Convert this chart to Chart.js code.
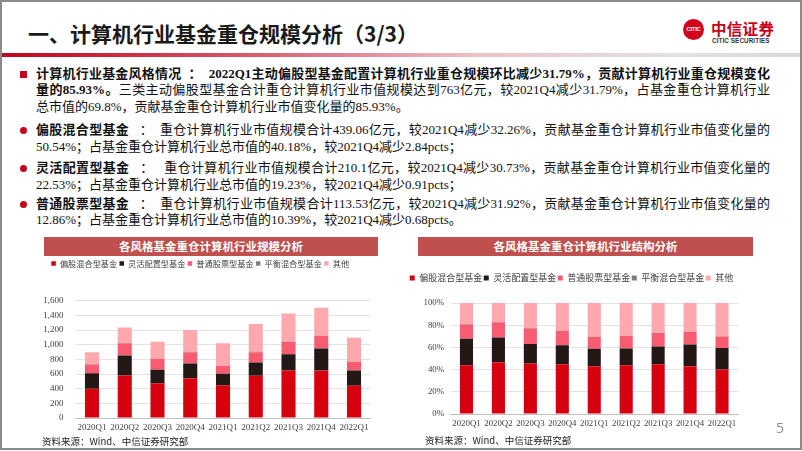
<!DOCTYPE html>
<html>
<head>
<meta charset="utf-8">
<script src="https://cdn.jsdelivr.net/npm/chart.js@4.4.1/dist/chart.umd.min.js"></script>
<style>
  body { margin: 0; background: #fff; }
  #slide { position: relative; width: 802px; height: 451px; overflow: hidden; background: #fff;
           font-family: "Liberation Serif", "Noto Sans CJK SC", serif; color: #111; }
  #frame { position: absolute; left: 0; top: 0; width: 802px; height: 450px; box-sizing: border-box;
           border: 2px solid #8a8a8a; pointer-events: none; z-index: 5; }
  .abs { position: absolute; }

  /* ── Cabecera ── */
  #title { left: 28px; top: 21px; font: bold 21px/24px "Noto Sans CJK SC", sans-serif; color: #1a1a1a; }
  #rule { left: 0; top: 53px; width: 800px; height: 4px;
          background: linear-gradient(to right, #c4001c 0%, #d9556a 30%, #edc2c6 60%, #e2e2e2 85%, #d8d8d8 100%); }
  #logo-ring { left: 683px; top: 19px; width: 21px; height: 21px; border-radius: 50%; background: #d0021b;
               color: #fff; font: bold 6px/21px "Liberation Sans", sans-serif; text-align: center; letter-spacing: -0.3px; }
  #logo-cn { left: 711px; top: 19px; font: bold 15.5px/18px "Noto Sans CJK SC", serif; color: #c8001a; letter-spacing: 0.3px; }
  #logo-en { left: 712px; top: 37px; font: bold 6.3px/7px "Liberation Sans Narrow", "Liberation Sans", sans-serif; color: #333; letter-spacing: 0.1px; }

  /* ── Texto ── */
  .para { left: 36px; width: 734px; font-size: 13px; line-height: 16.7px; }
  .line { white-space: nowrap; }
  .full { text-align: justify; text-align-last: justify; text-justify: inter-character; white-space: normal; height: 16.7px; overflow: visible; }
  .mark { position: absolute; left: -16px; top: 5px; width: 7px; height: 7px; background: #c8001a; }
  .dot { border-radius: 50%; }
  b { font-weight: bold; }

  /* ── Gráficas ── */
  .banner { height: 19px; background: #c0504d; color: #fff; text-align: center;
            font: bold 11.5px/19px "Noto Sans CJK SC", sans-serif; }
  .source { font: 9.5px/12px "Noto Sans CJK SC", sans-serif; color: #222; }
  canvas { position: absolute; }
  #page-num { left: 776px; top: 419px; font: 14px/18px "Open Sans", sans-serif; color: #8c8c8c; }
</style>
</head>
<body>
<div id="slide">
  <div id="frame"></div>

  <div id="title" class="abs">一、计算机行业基金重仓规模分析（3/3）</div>
  <div id="logo-ring" class="abs">CITIC</div>
  <div id="logo-cn" class="abs">中信证券</div>
  <div id="logo-en" class="abs">CITIC SECURITIES</div>
  <div id="rule" class="abs"></div>

  <div class="abs para" style="top:65.6px">
    <span class="mark"></span>
    <div class="line full"><b>计算机行业基金风格情况&nbsp;&nbsp;：&nbsp;&nbsp;2022Q1主动偏股型基金配置计算机行业重仓规模环比减少31.79%，贡献计算机行业重仓规模变化</b></div>
    <div class="line full"><b>量的85.93%。</b>三类主动偏股型基金合计重仓计算机行业市值规模达到763亿元，较2021Q4减少31.79%，占基金重仓计算机行业</div>
    <div class="line">总市值的69.8%，贡献基金重仓计算机行业市值变化量的85.93%。</div>
  </div>

  <div class="abs para" style="top:122.3px">
    <span class="mark dot"></span>
    <div class="line full"><b>偏股混合型基金</b>&nbsp;&nbsp;&nbsp;：&nbsp;&nbsp;重仓计算机行业市值规模合计439.06亿元，较2021Q4减少32.26%，贡献基金重仓计算机行业市值变化量的</div>
    <div class="line">50.54%；占基金重仓计算机行业总市值的40.18%，较2021Q4减少2.84pcts；</div>
  </div>

  <div class="abs para" style="top:160px">
    <span class="mark dot"></span>
    <div class="line full"><b>灵活配置型基金</b>&nbsp;&nbsp;&nbsp;：&nbsp;&nbsp;&nbsp;重仓计算机行业市值规模合计210.1亿元，较2021Q4减少30.73%，贡献基金重仓计算机行业市值变化量的</div>
    <div class="line">22.53%；占基金重仓计算机行业总市值的19.23%，较2021Q4减少0.91pcts；</div>
  </div>

  <div class="abs para" style="top:195.6px">
    <span class="mark dot"></span>
    <div class="line full"><b>普通股票型基金</b>&nbsp;&nbsp;&nbsp;：&nbsp;&nbsp;重仓计算机行业市值规模合计113.53亿元，较2021Q4减少31.92%，贡献基金重仓计算机行业市值变化量的</div>
    <div class="line">12.86%；占基金重仓计算机行业总市值的10.39%，较2021Q4减少0.68pcts。</div>
  </div>

  <div class="abs banner" style="left:44px; top:237px; width:334px; z-index:2">各风格基金重仓计算机行业规模分析</div>
  <div class="abs banner" style="left:418px; top:237px; width:335px; z-index:2">各风格基金重仓计算机行业结构分析</div>

  <canvas id="chart-scale" width="368" height="179" style="left:30px; top:257px"></canvas>
  <canvas id="chart-mix" width="369" height="160" style="left:405px; top:272px"></canvas>

  <div class="abs source" style="left:42px; top:435px">资料来源：Wind、中信证券研究部</div>
  <div class="abs source" style="left:425px; top:434px">资料来源：Wind、中信证券研究部</div>
  <div id="page-num" class="abs">5</div>
</div>

<script>
// ── Datos ─────────────────────────────────────────────────────────────────────
const quarters = ['2020Q1', '2020Q2', '2020Q3', '2020Q4', '2021Q1', '2021Q2', '2021Q3', '2021Q4', '2022Q1'];
const seriesNames  = ['偏股混合型基金', '灵活配置型基金', '普通股票型基金', '平衡混合型基金', '其他'];
const seriesColors = ['#d6000f', '#231815', '#f75c70', '#7f7f7f', '#ffa9af'];

// 规模（亿元）
const pianguScale   = [400, 579, 474, 543, 447, 575, 648, 648, 439];
const linghuoScale  = [211, 274, 183, 200, 155, 182, 223, 300, 210];
const putongScale   = [119, 164, 150, 155, 109, 141, 169, 169, 114];
const pinghengScale = [4, 5, 4, 4, 3, 4, 4, 4, 3];
const otherScale    = [164, 214, 229, 297, 307, 379, 383, 384, 327];

// 结构（%）
const pianguShare   = [44.0, 46.7, 45.5, 44.9, 43.1, 44.0, 44.9, 43.1, 40.2];
const linghuoShare  = [23.8, 22.3, 17.5, 17.1, 15.6, 15.0, 15.9, 19.6, 19.2];
const putongShare   = [12.9, 13.5, 14.1, 13.0, 10.9, 11.2, 12.1, 11.1, 10.4];
const pinghengShare = [0.4, 0.4, 0.4, 0.3, 0.3, 0.3, 0.3, 0.3, 0.3];
const otherShare    = [18.9, 17.1, 22.5, 24.7, 30.1, 29.5, 26.8, 25.9, 29.9];

const scaleTicks = [0, 200, 400, 600, 800, 1000, 1200, 1400, 1600];
const shareTicks = [0, 10, 20, 30, 40, 50, 60, 70, 80, 90, 100];

// ── Espacio fijo bajo la leyenda ──────────────────────────────────────────────
const legendSpace = {
  id: 'legendSpace',
  beforeInit(chart, args, opts) {
    const fit = chart.legend.fit;
    chart.legend.fit = function () {
      fit.call(this);
      this.height = opts.height;
    };
  }
};

function makeDatasets(series, barPct) {
  return series.map((data, i) => ({
    label: seriesNames[i],
    data,
    backgroundColor: seriesColors[i],
    borderWidth: 0,
    barPercentage: barPct,
    categoryPercentage: 1,
  }));
}

function stackedBar(id, series, o) {
  return new Chart(document.getElementById(id), {
    type: 'bar',
    data: { labels: quarters, datasets: makeDatasets(series, o.barPct) },
    plugins: [legendSpace],
    options: {
      responsive: false,
      animation: false,
      layout: { padding: { left: 0, right: o.padRight, top: 0, bottom: 0 } },
      plugins: {
        legendSpace: { height: o.legendHeight },
        legend: {
          position: 'top',
          labels: {
            boxWidth: o.box, boxHeight: o.box, padding: o.legendPad, color: '#404040',
            font: { family: '"Noto Sans CJK SC", sans-serif', size: o.legendFont },
          },
        },
        tooltip: { enabled: false },
      },
      scales: {
        x: {
          stacked: true,
          grid: { display: false, drawTicks: false },
          border: { display: true, color: '#bfbfbf', width: 1 },
          ticks: {
            color: '#404040', padding: 4, maxRotation: 0, minRotation: 0, autoSkip: false,
            font: { family: '"Liberation Serif", serif', size: o.tickFont },
          },
          afterFit(scale) { scale.height = 18; },
        },
        y: {
          stacked: true,
          min: 0,
          max: o.max,
          afterBuildTicks(scale) { scale.ticks = o.ticks.map(v => ({ value: v })); },
          grid: { color: '#e3e3e3', drawTicks: false },
          border: { display: false },
          ticks: {
            color: '#404040', padding: o.tickPad,
            font: { family: '"Liberation Serif", serif', size: o.tickFont },
            callback: o.fmt,
          },
          afterFit(scale) { scale.width = o.axisWidth; },
        },
      },
    },
  });
}

stackedBar('chart-scale', [pianguScale, linghuoScale, putongScale, pinghengScale, otherScale], {
  max: 1600, ticks: scaleTicks, fmt: v => v.toLocaleString('en-US'),
  barPct: 0.43, padRight: 27.6, legendHeight: 43.7, legendFont: 8.2, legendPad: 2.3, box: 4.5,
  tickFont: 9, tickPad: 12, axisWidth: 45.6,
});

stackedBar('chart-mix', [pianguShare, linghuoShare, putongShare, pinghengShare, otherShare], {
  max: 100, ticks: shareTicks, fmt: v => v + '%',
  barPct: 0.41, padRight: 36, legendHeight: 31, legendFont: 9, legendPad: 1.5, box: 5,
  tickFont: 8.8, tickPad: 6.5, axisWidth: 45.5,
});
</script>
</body>
</html>
